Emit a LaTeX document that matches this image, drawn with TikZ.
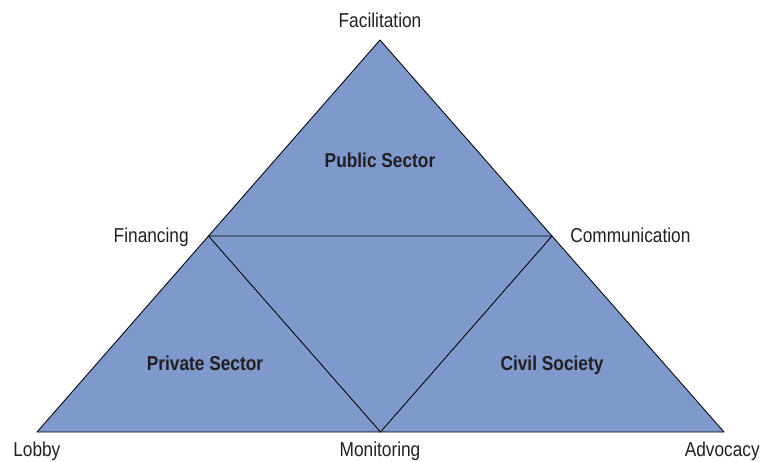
\documentclass[tikz,border=0pt]{standalone}
\usepackage{fontspec}
\setmainfont{Liberation Sans}[FakeStretch=0.86]
\usepackage{tikz}
\usetikzlibrary{calc,positioning}
\definecolor{panel}{HTML}{7F99CC}
\definecolor{ink}{HTML}{231F20}
\tikzset{
    x=0.025cm,y=-0.025cm,
    tri/.style ={fill=panel, draw=black, line width=0.6pt, line join=round},
    lbl/.style ={inner sep=0pt, text=ink, anchor=base, font=\fontsize{14.3}{16}\selectfont},
    sector/.style={lbl, font=\fontsize{14.3}{16}\selectfont\bfseries}
}
\begin{document}
\begin{tikzpicture}
    \useasboundingbox (0,0) rectangle (762,461);
    \coordinate (top) at (380,40);
    \coordinate (lft) at (37,432);
    \coordinate (rgt) at (724,432);
    \coordinate (ml) at ($(top)!0.5!(lft)$);
    \coordinate (mr) at ($(top)!0.5!(rgt)$);
    \coordinate (mb) at ($(lft)!0.5!(rgt)$);

    \path[tri] (top) -- (lft) -- (rgt) -- cycle;
    \path[tri] (ml) -- (mr) -- (mb) -- cycle;

    \node[lbl] (fac) at (380,27) {Facilitation};
    \node[lbl, anchor=base east] (fin) at (189,242) {Financing};
    \node[lbl, anchor=base west] (com) at (570,242) {Communication};
    \node[lbl, anchor=base west] (lob) at (13,456) {Lobby};
    \node[lbl] (mon) at (380,456) {Monitoring};
    \node[lbl, anchor=base east] (adv) at (760,456) {Advocacy};

    \node[sector] (pub) at (380,167) {Public Sector};
    \node[sector] (pri) at (205,370) {Private Sector};
    \node[sector] (civ) at (552,370) {Civil Society};
\end{tikzpicture}
\end{document}
